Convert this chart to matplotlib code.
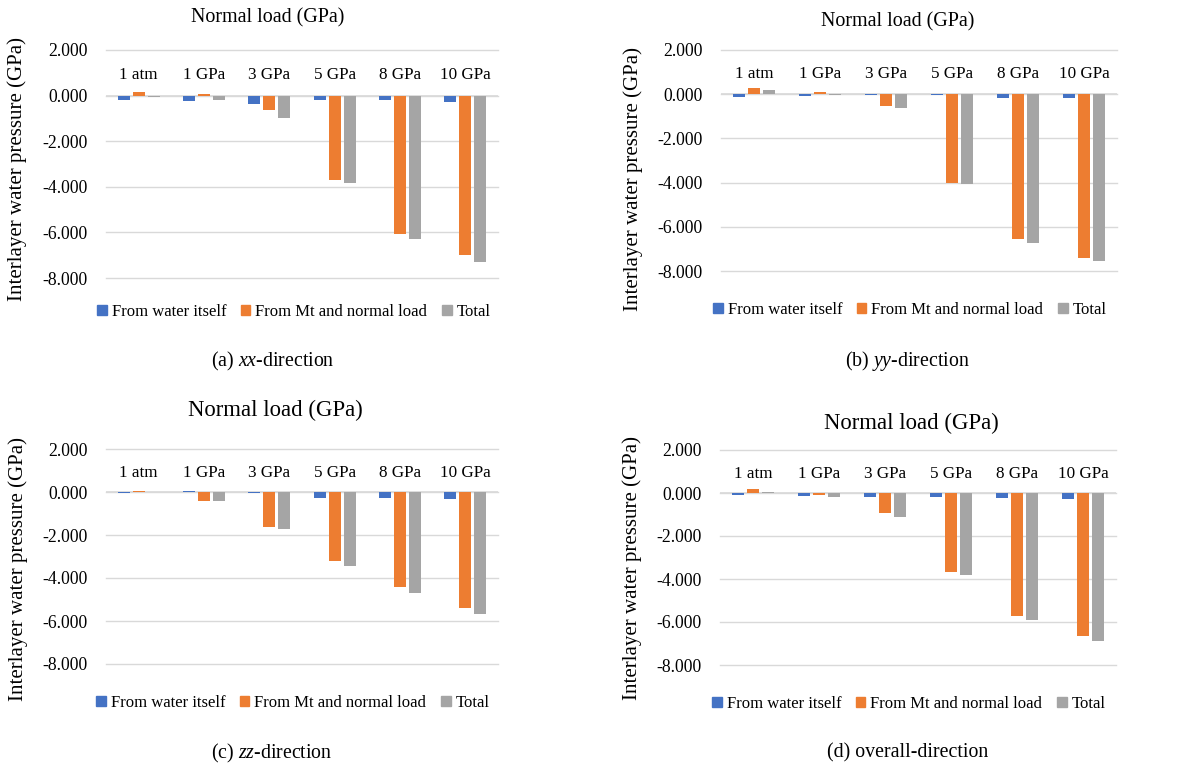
import numpy as np
import matplotlib.pyplot as plt
from matplotlib.patches import Patch

plt.rcParams['font.family'] = ['Liberation Serif', 'DejaVu Serif']
plt.rcParams['mathtext.fontset'] = 'custom'
plt.rcParams['mathtext.rm'] = 'Liberation Serif'
plt.rcParams['mathtext.it'] = 'Liberation Serif:italic'

loads = ['1 atm', '1 GPa', '3 GPa', '5 GPa', '8 GPa', '10 GPa']
series_names = ['From water itself', 'From Mt and normal load', 'Total']
colors = ['#4472C4', '#ED7D31', '#A5A5A5']

# interlayer water pressure (GPa) per direction
xx_water = [-0.18, -0.25, -0.38, -0.18, -0.20, -0.29]
xx_mt = [0.17, 0.08, -0.61, -3.69, -6.07, -6.99]
xx_total = [-0.04, -0.18, -0.98, -3.85, -6.31, -7.30]

yy_water = [-0.12, -0.09, -0.04, -0.04, -0.17, -0.17]
yy_mt = [0.29, 0.12, -0.55, -4.00, -6.56, -7.39]
yy_total = [0.17, -0.03, -0.62, -4.07, -6.73, -7.56]

zz_water = [-0.04, 0.03, -0.04, -0.26, -0.26, -0.31]
zz_mt = [0.03, -0.42, -1.65, -3.20, -4.43, -5.38]
zz_total = [-0.01, -0.42, -1.71, -3.45, -4.69, -5.66]

all_water = [-0.08, -0.12, -0.17, -0.17, -0.22, -0.26]
all_mt = [0.17, -0.09, -0.95, -3.66, -5.71, -6.65]
all_total = [0.03, -0.20, -1.10, -3.83, -5.93, -6.90]

W, H = 1195, 771
fig = plt.figure(figsize=(W / 100, H / 100), dpi=100)


def fx(px):
    return px / W


def fy(py):
    return 1 - py / H


# panel layout in pixels: axes box (left, right, top, bottom), title, ylabel, legend, caption
panels = [
    dict(data=(xx_water, xx_mt, xx_total), box=(106, 498, 50, 278), title=(268, 18, 14.4),
         ylab=(17, 169), leg=(294, 312), cap=(273, 361, '(a) $xx$-direction')),
    dict(data=(yy_water, yy_mt, yy_total), box=(721, 1117, 50, 271), title=(898, 22, 14.4),
         ylab=(633, 179), leg=(910, 310), cap=(907, 361, '(b) $yy$-direction')),
    dict(data=(zz_water, zz_mt, zz_total), box=(106, 498, 449, 664), title=(275, 410, 16.4),
         ylab=(18, 569), leg=(293, 703), cap=(272, 753, '(c) $zz$-direction')),
    dict(data=(all_water, all_mt, all_total), box=(720, 1116, 450, 665), title=(911, 423, 16.4),
         ylab=(632, 568), leg=(909, 704), cap=(908, 753, '(d) overall-direction')),
]

x = np.arange(len(loads))
bw = 0.18
step = 0.23

for p in panels:
    l, r, t, b = p['box']
    ax = fig.add_axes([fx(l), fy(b), fx(r - l), (b - t) / H])
    for i, vals in enumerate(p['data']):
        ax.bar(x + (i - 1) * step, vals, width=bw, color=colors[i], zorder=3)
    ax.set_xlim(-0.5, len(loads) - 0.5)
    ax.set_ylim(-8, 2)
    ax.set_yticks([2, 0, -2, -4, -6, -8])
    ax.set_yticklabels(['%.3f' % v for v in [2, 0, -2, -4, -6, -8]], fontsize=12.7)
    ax.set_xticks([])
    ax.tick_params(axis='y', length=0, pad=13)
    ax.grid(axis='y', color='#D9D9D9', lw=1, zorder=0)
    for gl in ax.get_ygridlines():
        gl.set_clip_on(False)
    ax.axhline(0, color='#D9D9D9', lw=1.2, zorder=1)
    for s in ax.spines.values():
        s.set_visible(False)
    for i, lab in enumerate(loads):
        ax.text(x[i], 0.9, lab, ha='center', va='center', fontsize=12.3)

    tx, ty, ts = p['title']
    fig.text(fx(tx), fy(ty), 'Normal load (GPa)', ha='center', va='center', fontsize=ts)
    yx, yy = p['ylab']
    fig.text(fx(yx), fy(yy), 'Interlayer water pressure (GPa)', rotation=90,
             ha='center', va='center', fontsize=15)
    handles = [Patch(color=c) for c in colors]
    lx, ly = p['leg']
    fig.legend(handles, series_names, loc='center', bbox_to_anchor=(fx(lx), fy(ly)),
               ncol=3, frameon=False, fontsize=12, handlelength=0.55, handleheight=0.55,
               handletextpad=0.3, columnspacing=0.9, borderaxespad=0)
    cx, cy, ctext = p['cap']
    fig.text(fx(cx), fy(cy), ctext, ha='center', va='center', fontsize=14.3)

fig.savefig('out.png', dpi=100)
